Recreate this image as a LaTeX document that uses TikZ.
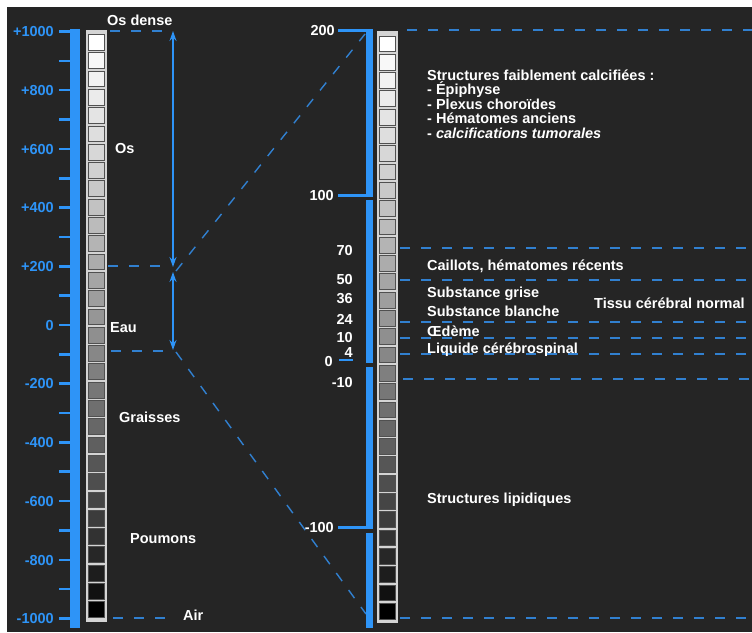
\documentclass[tikz,border=0pt]{standalone}
\usepackage{fontspec}
\setmainfont{Liberation Sans}
\usetikzlibrary{arrows.meta}
\definecolor{bg}{HTML}{252525}
\definecolor{hublue}{HTML}{2E94F7}
\definecolor{dashblue}{HTML}{3180D0}
\definecolor{framegray}{HTML}{D4D4D4}
\definecolor{cellline}{HTML}{505050}
\newcommand\hucolumn[2]{%
  \fill[framegray] (#1,#2) rectangle ++(21,592);
  \foreach \i in {0,...,31}{
    \pgfmathsetmacro\lev{100*pow(max(1-\i/31,0.0001),0.8)}
    \filldraw[fill=white!\lev!black, draw=cellline, line width=0.9pt]
      ({#1+2.5},{#2+5+\i*18.3}) rectangle ++(16,15.8);
  }%
}
\begin{document}
\begin{tikzpicture}[x=1pt,y=-1pt,
  txt/.style={font=\fontsize{14.5}{15}\selectfont\bfseries, text=white, inner sep=0pt, anchor=base west},
  numw/.style={font=\fontsize{14.5}{15}\selectfont\bfseries, text=white, inner sep=0pt, anchor=base east},
  numb/.style={font=\fontsize{14.5}{15}\selectfont\bfseries, text=hublue, inner sep=0pt, anchor=base east},
  tickln/.style={draw=hublue, line width=2.6pt},
  dsh/.style={draw=dashblue, line width=1.4pt, dash pattern=on 10pt off 11pt},
  arr/.style={draw=hublue, line width=1.4pt, {Stealth[length=10pt,width=7pt]}-{Stealth[length=10pt,width=7pt]}}]
\useasboundingbox (0,0) rectangle (752,632);
\fill[white] (0,0) rectangle (752,632);
\fill[bg] (7,7) rectangle (752,632);

% ---------- left scale ----------
\fill[hublue] (70,29) rectangle (80,628);
\foreach \v in {-1000,-900,...,1000}{
  \pgfmathsetmacro\yy{325-\v*0.2935}
  \draw[tickln] (59,\yy) -- (70.5,\yy);
}
\foreach \v/\t in {1000/+1000,800/+800,600/+600,400/+400,200/+200,0/0,-200/-200,-400/-400,-600/-600,-800/-800,-1000/-1000}{
  \pgfmathsetmacro\yy{325-\v*0.2935+5.2}
  \node[numb] (L\v) at (54,\yy) {\t};
}
\hucolumn{86}{29.5}

% left texts
\node[txt] (osdense) at (107,25.5) {Os dense};
\node[txt] (os) at (115,153.5) {Os};
\node[txt] (eau) at (110,332.5) {Eau};
\node[txt] (graisses) at (119,422.5) {Graisses};
\node[txt] (poumons) at (130,543.5) {Poumons};
\node[txt] (air) at (183,620.5) {Air};

% left dashed levels
\coordinate (a1) at (110,31);  \coordinate (a2) at (167,31);
\coordinate (b1) at (108,266); \coordinate (b2) at (170,266);
\coordinate (c1) at (111,351); \coordinate (c2) at (170,351);
\coordinate (d1) at (113,618); \coordinate (d2) at (172,618);
\draw[dsh] (a1) -- (a2);
\draw[dsh] (b1) -- (b2);
\draw[dsh] (c1) -- (c2);
\draw[dsh] (d1) -- (d2);

% arrows
\coordinate (ar1t) at (173,31);  \coordinate (ar1b) at (173,267);
\coordinate (ar2t) at (173,272); \coordinate (ar2b) at (173,350);
\draw[arr] (ar1t) -- (ar1b);
\draw[arr] (ar2t) -- (ar2b);

% diagonals
\coordinate (g1) at (176,271); \coordinate (g2) at (365,34);
\coordinate (h1) at (176,352); \coordinate (h2) at (366,614);
\draw[dsh] (g1) -- (g2);
\draw[dsh] (h1) -- (h2);

% ---------- right scale ----------
\fill[hublue] (366,30) rectangle (373,197);
\fill[hublue] (366,200) rectangle (373,363);
\fill[hublue] (366,367) rectangle (373,529);
\fill[hublue] (366,533) rectangle (373,628);
\draw[tickln] (338,30.5) -- (373,30.5);
\draw[tickln] (338,195.5) -- (373,195.5);
\draw[tickln] (339,360) -- (353,360);
\draw[tickln] (338,527.5) -- (373,527.5);
\hucolumn{377}{31}

\node[numw] (r200) at (335,35.5) {200};
\node[numw] (r100) at (334,200.5) {100};
\node[numw] (r70) at (353,255.5) {70};
\node[numw] (r50) at (353,284.5) {50};
\node[numw] (r36) at (353,303.5) {36};
\node[numw] (r24) at (353,324.5) {24};
\node[numw] (r10) at (353,342.5) {10};
\node[numw] (r4) at (353,357.5) {4};
\node[numw] (r0) at (333,366) {0};
\node[numw] (rm10) at (353,387.5) {-10};
\node[numw] (rm100) at (334,532.5) {-100};

% right dashed levels
\coordinate (e0) at (407,30);  \coordinate (f0) at (752,30);
\coordinate (e1) at (400,248); \coordinate (f1) at (752,248);
\coordinate (e2) at (400,280); \coordinate (f2) at (752,280);
\coordinate (e3) at (400,322); \coordinate (f3) at (752,322);
\coordinate (e4) at (400,338); \coordinate (f4) at (752,338);
\coordinate (e5) at (400,354); \coordinate (f5) at (752,354);
\coordinate (e6) at (403,379); \coordinate (f6) at (752,379);
\coordinate (e7) at (400,618); \coordinate (f7) at (752,618);
\foreach \k in {0,...,7}{ \draw[dsh] (e\k) -- (f\k); }

% right texts
\node[txt] (s1) at (427,80) {Structures faiblement calcifiées :};
\node[txt] (s2) at (427,94.5) {- Épiphyse};
\node[txt] (s3) at (427,109) {- Plexus choroïdes};
\node[txt] (s4) at (427,123.5) {- Hématomes anciens};
\node[txt] (s5) at (427,138) {- \textit{calcifications tumorales}};
\node[txt] (cai) at (427,270.5) {Caillots, hématomes récents};
\node[txt] (sg) at (427,297) {Substance grise};
\node[txt] (sb) at (427,316) {Substance blanche};
\node[txt] (oed) at (427,336) {Œdème};
\node[txt] (lcs) at (427,353.5) {Liquide cérébrospinal};
\node[txt] (tissu) at (594,308) {Tissu cérébral normal};
\node[txt] (lip) at (427,503) {Structures lipidiques};
\end{tikzpicture}
\end{document}
